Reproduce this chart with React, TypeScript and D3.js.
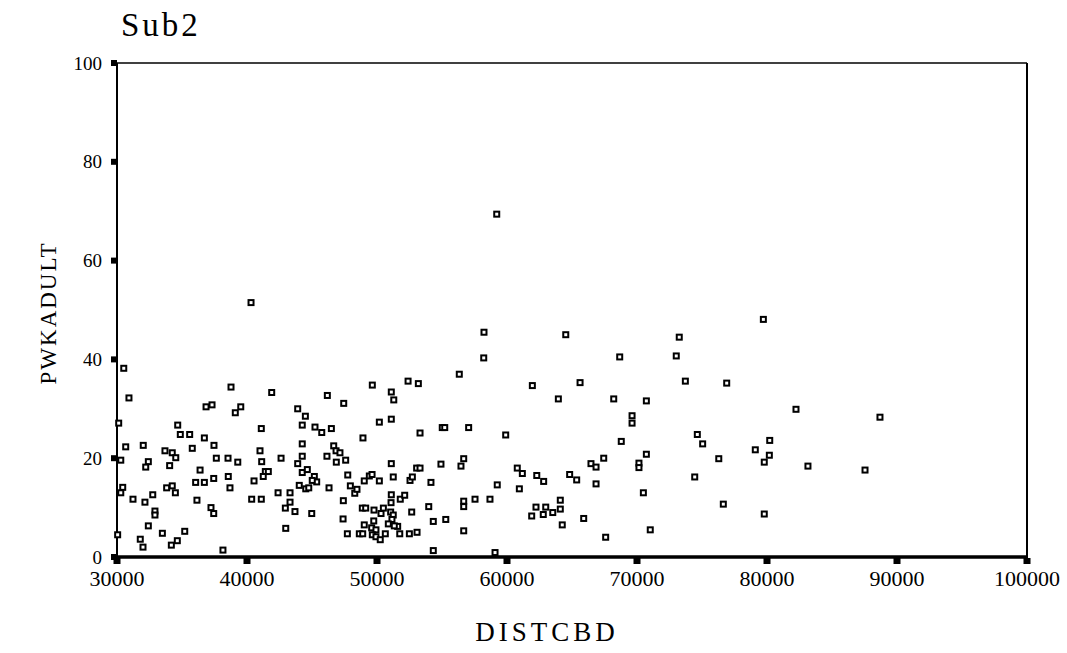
import * as d3 from "d3";
import React from "react";

// axis ticks
const xTicks = [30000, 40000, 50000, 60000, 70000, 80000, 90000, 100000];
const yTicks = [0, 20, 40, 60, 80, 100];

// DISTCBD (x) and PWKADULT (y)
const distcbd = [
    40310, 30520, 30920, 30130, 38770, 41900, 36850, 37310, 39100, 39520,
    34670, 34870, 35590, 36720, 37460, 35790, 32020, 30670, 30290, 33690,
    34250, 34520, 32410, 32210, 34050, 37640, 38540, 39290, 41100, 41000,
    41130, 42620, 36390, 36050, 36720, 37440, 38560, 38690, 40540, 41410,
    41640, 41250, 30440, 30290, 31230, 32150, 32750, 33820, 34250, 34490,
    36150, 37230, 37440, 32920, 32920, 32410, 33490, 35210, 31790, 32000,
    34180, 34640, 38150, 30050, 40360, 41100, 42390, 43310, 42950, 43310,
    43690, 44980, 42980, 43900, 44490, 44250, 45230, 45750, 46490, 46180,
    47440, 44250, 44250, 43900, 44250, 44640, 45180, 45360, 45020, 44020,
    44520, 44750, 46150, 46310, 46670, 46850, 47150, 46870, 47590, 47750,
    47950, 48290, 48460, 47410, 47390, 47720, 48640, 48900, 48920, 49640,
    50180, 51100, 51290, 51100, 52390, 53180, 53310, 55020, 55210, 51100,
    54920, 49020, 49410, 49620, 50180, 51250, 52540, 52720, 53050, 53310,
    54150, 51100, 51080, 51790, 52130, 48870, 49130, 49770, 50490, 50310,
    51050, 51250, 51150, 50870, 51590, 51330, 49750, 49020, 49590, 49920,
    49640, 49920, 50250, 50640, 51750, 52490, 53080, 52670, 53980, 54330,
    55290, 54330, 58230, 58210, 56330, 64520, 68670, 73250, 73020, 61950,
    65620, 63950, 68210, 70720, 73720, 76900, 57050, 59900, 69620, 69620,
    68790, 70720, 74640, 75050, 79100, 80210, 80180, 79790, 76290, 56670,
    56460, 60790, 61180, 62290, 62820, 64820, 65360, 66460, 66850, 67440,
    70150, 70150, 66850, 74440, 59250, 60950, 70490, 56670, 56670, 57540,
    58690, 64100, 62230, 62980, 61900, 62790, 63520, 64100, 64250, 65900,
    76640, 79790, 56670, 71020, 67590, 59080, 79720, 82230, 88690, 83150,
    87540, 59210
];
const pwkadult = [
    51.5, 38.2, 32.2, 27.1, 34.4, 33.3, 30.4, 30.8, 29.2, 30.4,
    26.7, 24.8, 24.8, 24.1, 22.6, 22.0, 22.6, 22.3, 19.6, 21.5,
    21.1, 20.1, 19.3, 18.2, 18.5, 20.0, 20.0, 19.2, 26.0, 21.5,
    19.3, 20.0, 17.6, 15.1, 15.1, 15.9, 16.3, 14.0, 15.4, 17.3,
    17.3, 16.3, 14.1, 13.0, 11.7, 11.1, 12.6, 14.0, 14.4, 13.0,
    11.5, 10.0, 8.8, 9.3, 8.5, 6.3, 4.8, 5.2, 3.6, 2.0,
    2.4, 3.3, 1.4, 4.5, 11.7, 11.7, 13.0, 13.0, 9.9, 11.1,
    9.2, 8.8, 5.8, 30.0, 28.5, 26.7, 26.3, 25.2, 26.0, 32.7,
    31.1, 22.9, 20.4, 18.9, 17.1, 17.7, 16.3, 15.2, 15.5, 14.5,
    13.8, 14.0, 20.4, 14.0, 22.5, 21.5, 21.1, 19.2, 19.6, 16.6,
    14.4, 12.9, 13.7, 11.4, 7.7, 4.7, 4.7, 4.7, 24.1, 34.8,
    27.3, 33.4, 31.8, 27.9, 35.6, 35.1, 25.1, 26.2, 26.2, 18.9,
    18.8, 15.4, 16.4, 16.7, 15.4, 16.2, 15.5, 16.2, 18.0, 18.0,
    15.1, 12.6, 11.0, 11.7, 12.5, 9.9, 9.9, 9.5, 9.9, 8.8,
    9.1, 8.5, 7.6, 6.7, 6.2, 6.3, 7.3, 6.5, 5.9, 5.5,
    4.5, 4.1, 3.5, 4.7, 4.7, 4.7, 5.0, 9.1, 10.2, 7.2,
    7.6, 1.3, 45.5, 40.3, 37.0, 45.0, 40.5, 44.5, 40.7, 34.7,
    35.3, 32.0, 32.0, 31.6, 35.6, 35.2, 26.2, 24.7, 28.6, 27.1,
    23.4, 20.8, 24.8, 22.9, 21.7, 23.6, 20.6, 19.2, 19.9, 19.9,
    18.4, 18.0, 16.9, 16.5, 15.3, 16.7, 15.6, 18.9, 18.2, 20.0,
    19.0, 18.1, 14.8, 16.2, 14.6, 13.8, 13.0, 11.3, 10.2, 11.7,
    11.7, 11.5, 10.1, 10.1, 8.3, 8.6, 9.0, 9.7, 6.5, 7.8,
    10.7, 8.7, 5.3, 5.5, 4.0, 0.9, 48.1, 29.9, 28.3, 18.4,
    17.6, 69.4
];

const WIDTH = 1067;
const HEIGHT = 653;
const FONT = "'Liberation Serif', 'Times New Roman', serif";

class ScatterChart extends React.PureComponent<any, any> {
    svgRef: any;

    constructor(props: any) {
        super(props);
        this.svgRef = React.createRef();
    }

    componentDidMount() {
        this.draw();
    }

    draw() {
        const svg = d3.select(this.svgRef.current);
        svg.selectAll("*").remove();

        const left = 117, right = 1027, top = 63, bottom = 557;
        const x = d3.scaleLinear().domain([30000, 100000]).range([left, right]);
        const y = d3.scaleLinear().domain([0, 100]).range([bottom, top]);

        svg.append("rect").attr("width", WIDTH).attr("height", HEIGHT).attr("fill", "#fff");

        // frame: top/right thin, left/bottom heavier
        svg.append("line").attr("x1", left).attr("x2", right).attr("y1", top).attr("y2", top)
            .attr("stroke", "#000").attr("stroke-width", 1.6);
        svg.append("line").attr("x1", right).attr("x2", right).attr("y1", top).attr("y2", bottom)
            .attr("stroke", "#000").attr("stroke-width", 2);
        svg.append("line").attr("x1", left).attr("x2", left).attr("y1", top).attr("y2", bottom)
            .attr("stroke", "#000").attr("stroke-width", 2);
        svg.append("line").attr("x1", left - 2).attr("x2", right + 1).attr("y1", bottom).attr("y2", bottom)
            .attr("stroke", "#000").attr("stroke-width", 3.5);

        /*
        y ticks
        */
        const yAxis = svg.append("g").attr("class", "y-axis");
        yAxis.selectAll(".tick-mark").data(yTicks).enter().append("rect")
            .attr("x", left - 6).attr("y", (d: number) => y(d) - 3)
            .attr("width", 6).attr("height", 6).attr("fill", "#000");
        yAxis.selectAll(".tick-label").data(yTicks).enter().append("text")
            .attr("x", 102).attr("y", (d: number) => y(d))
            .attr("dy", "0.35em")
            .style("text-anchor", "end")
            .style("font-family", FONT).style("font-size", "19px")
            .text((d: number) => String(d));

        /*
        x ticks
        */
        const xAxis = svg.append("g").attr("class", "x-axis");
        xAxis.selectAll(".tick-mark").data(xTicks).enter().append("rect")
            .attr("x", (d: number) => x(d) - 3.5).attr("y", bottom + 1)
            .attr("width", 7).attr("height", 6).attr("fill", "#000");
        xAxis.selectAll(".tick-label").data(xTicks).enter().append("text")
            .attr("x", (d: number) => x(d)).attr("y", 586)
            .style("text-anchor", "middle")
            .style("font-family", FONT).style("font-size", "22px")
            .text((d: number) => String(d));

        /*
        points
        */
        const points = distcbd.map((d, i) => ({ x: d, y: pwkadult[i] }));
        svg.append("g").selectAll("rect.pt").data(points).enter().append("rect")
            .attr("class", "pt")
            .attr("x", (d: any) => x(d.x) - 2.5)
            .attr("y", (d: any) => y(d.y) - 2.5)
            .attr("width", 5).attr("height", 5)
            .attr("fill", "#fff").attr("stroke", "#000").attr("stroke-width", 2);

        // labels
        svg.append("text").attr("x", 121).attr("y", 36)
            .style("font-family", FONT).style("font-size", "33px").style("letter-spacing", "3px")
            .text("Sub2");
        svg.append("text").attr("x", 547).attr("y", 641)
            .style("text-anchor", "middle")
            .style("font-family", FONT).style("font-size", "27px").style("letter-spacing", "4px")
            .text("DISTCBD");
        svg.append("text").attr("transform", "translate(56,313) rotate(-90)")
            .style("text-anchor", "middle")
            .style("font-family", FONT).style("font-size", "23px").style("letter-spacing", "2px")
            .text("PWKADULT");
    }

    render() {
        return (
            <svg ref={this.svgRef} width={WIDTH} height={HEIGHT}
                style={{ position: "absolute", left: 0, top: 0, display: "block" }} />
        );
    }
}

export default function App() {
    return <ScatterChart />;
}
